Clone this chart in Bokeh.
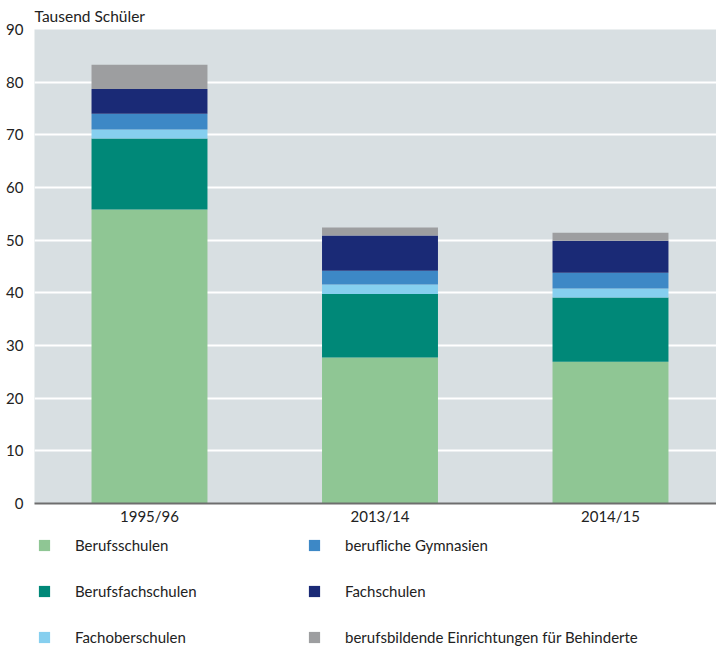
from bokeh.plotting import figure
from bokeh.layouts import column
from bokeh.models import ColumnDataSource, Range1d, FixedTicker, Legend, LegendItem
from bokeh.embed import file_html
from bokeh.resources import INLINE

years = ["1995/96", "2013/14", "2014/15"]
berufsschulen = [55.8, 27.7, 26.9]
berufsfachschulen = [13.5, 12.1, 12.2]
fachoberschulen = [1.7, 1.8, 1.7]
berufliche_gymnasien = [3.0, 2.6, 3.0]
fachschulen = [4.7, 6.7, 6.1]
behinderte = [4.6, 1.5, 1.5]

series_labels = ["Berufsschulen", "Berufsfachschulen", "Fachoberschulen",
                 "berufliche Gymnasien", "Fachschulen",
                 "berufsbildende Einrichtungen für Behinderte"]
series_keys = ["bs", "bfs", "fos", "gym", "fs", "beh"]
colors = ["#8fc694", "#008878", "#86cfef", "#3d88c6", "#1a2a76", "#9d9ea0"]
y_ticks = [0, 10, 20, 30, 40, 50, 60, 70, 80, 90]
y_label = "Tausend Schüler"

FONT = "Lato"
TXT = "#222222"
FS = "15px"

xs = list(range(len(years)))
source = ColumnDataSource(dict(x=xs, bs=berufsschulen, bfs=berufsfachschulen,
                               fos=fachoberschulen, gym=berufliche_gymnasien,
                               fs=fachschulen, beh=behinderte))

p = figure(frame_width=682, frame_height=474, output_backend="svg", toolbar_location=None,
           x_range=Range1d(-0.4989, 2.4599), y_range=Range1d(0, 90),
           min_border_left=34, min_border_right=0, min_border_top=0, min_border_bottom=0)
p.background_fill_color = "#d8dfe2"
p.outline_line_color = None
p.border_fill_color = "white"

p.title.text = y_label
p.title.align = "left"
p.title.text_font = FONT
p.title.text_font_size = "15.5px"
p.title.text_font_style = "normal"
p.title.text_color = TXT
p.title.standoff = 9

renderers = p.vbar_stack(series_keys, x="x", width=0.503, color=colors,
                         line_color=None, source=source)

p.xgrid.grid_line_color = None
p.ygrid.grid_line_color = "white"
p.ygrid.grid_line_width = 2
p.ygrid.ticker = FixedTicker(ticks=y_ticks)

p.yaxis.ticker = FixedTicker(ticks=y_ticks)
p.yaxis.axis_line_color = None
p.yaxis.major_tick_line_color = None
p.yaxis.minor_tick_line_color = None
p.yaxis.major_label_standoff = 5
p.yaxis.major_label_text_font = FONT
p.yaxis.major_label_text_font_size = FS
p.yaxis.major_label_text_color = TXT

p.xaxis.ticker = FixedTicker(ticks=xs)
p.xaxis.major_label_overrides = {i: y for i, y in zip(xs, years)}
p.xaxis.axis_line_color = "#6e6e6e"
p.xaxis.axis_line_width = 2.2
p.xaxis.major_tick_line_color = None
p.xaxis.minor_tick_line_color = None
p.xaxis.major_label_standoff = -3
p.xaxis.major_label_text_font = FONT
p.xaxis.major_label_text_font_size = FS
p.xaxis.major_label_text_color = TXT

# Legend in its own strip below the chart; swatch renderers are zero-size
lg = figure(width=716, height=124, output_backend="svg", toolbar_location=None,
            x_axis_type=None, y_axis_type=None, x_range=Range1d(0, 1), y_range=Range1d(0, 1),
            min_border_left=34, min_border_top=6, min_border_right=0, min_border_bottom=0)
lg.outline_line_color = None
lg.grid.grid_line_color = None
swatches = [lg.vbar(x=[0], top=[0], bottom=[0], width=0, color=c, line_color=None)
            for c in colors]
items = [LegendItem(label=lab, renderers=[r]) for lab, r in zip(series_labels, swatches)]
legend = Legend(items=items, orientation="vertical", nrows=3,
                location="top_left", glyph_width=14, glyph_height=14,
                label_standoff=24, label_width=204, spacing=28,
                padding=0, margin=3,
                border_line_color=None, background_fill_alpha=0,
                label_text_font=FONT, label_text_font_size=FS,
                label_text_color=TXT)
lg.add_layout(legend, "center")

layout = column(p, lg, spacing=0)
open("out.html", "w").write(file_html(layout, INLINE))
